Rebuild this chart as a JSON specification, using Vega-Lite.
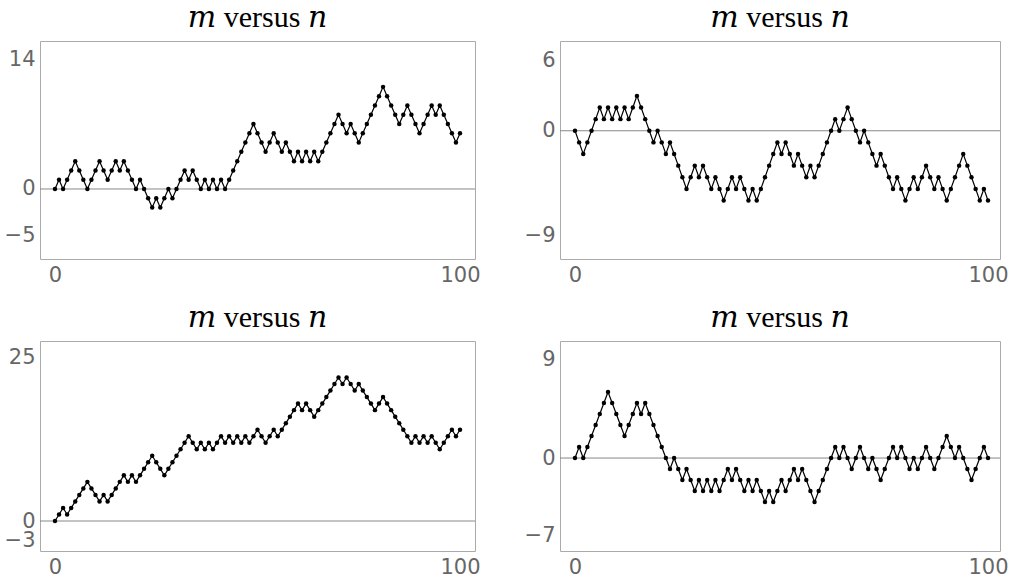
{
 "$schema": "https://vega.github.io/schema/vega-lite/v6.json",
 "padding": {"left": 3, "top": 2, "right": 0, "bottom": 0},
 "background": "white",
 "bounds": "flush",
 "columns": 2,
 "spacing": {"row": 82, "column": 85},
 "config": {
  "view": {"stroke": "#aaaaaa", "strokeWidth": 1},
  "axis": {"domain": false, "ticks": false, "grid": false, "labelFont": "DejaVu Sans", "labelFontSize": 21, "labelColor": "#666666", "labelPadding": 5, "labelOverlap": false, "labelFlush": false, "title": null},
  "title": {"font": "Liberation Serif, DejaVu Serif, DejaVu Sans", "fontSize": 30, "fontWeight": "normal", "color": "black", "baseline": "alphabetic", "offset": 8}
 },
 "datasets": {
  "zero": [{"m": 0}],
  "w1": [{"n":0,"m":0},{"n":1,"m":1},{"n":2,"m":0},{"n":3,"m":1},{"n":4,"m":2},{"n":5,"m":3},{"n":6,"m":2},{"n":7,"m":1},{"n":8,"m":0},{"n":9,"m":1},{"n":10,"m":2},{"n":11,"m":3},{"n":12,"m":2},{"n":13,"m":1},{"n":14,"m":2},{"n":15,"m":3},{"n":16,"m":2},{"n":17,"m":3},{"n":18,"m":2},{"n":19,"m":1},{"n":20,"m":0},{"n":21,"m":1},{"n":22,"m":0},{"n":23,"m":-1},{"n":24,"m":-2},{"n":25,"m":-1},{"n":26,"m":-2},{"n":27,"m":-1},{"n":28,"m":0},{"n":29,"m":-1},{"n":30,"m":0},{"n":31,"m":1},{"n":32,"m":2},{"n":33,"m":1},{"n":34,"m":2},{"n":35,"m":1},{"n":36,"m":0},{"n":37,"m":1},{"n":38,"m":0},{"n":39,"m":1},{"n":40,"m":0},{"n":41,"m":1},{"n":42,"m":0},{"n":43,"m":1},{"n":44,"m":2},{"n":45,"m":3},{"n":46,"m":4},{"n":47,"m":5},{"n":48,"m":6},{"n":49,"m":7},{"n":50,"m":6},{"n":51,"m":5},{"n":52,"m":4},{"n":53,"m":5},{"n":54,"m":6},{"n":55,"m":5},{"n":56,"m":4},{"n":57,"m":5},{"n":58,"m":4},{"n":59,"m":3},{"n":60,"m":4},{"n":61,"m":3},{"n":62,"m":4},{"n":63,"m":3},{"n":64,"m":4},{"n":65,"m":3},{"n":66,"m":4},{"n":67,"m":5},{"n":68,"m":6},{"n":69,"m":7},{"n":70,"m":8},{"n":71,"m":7},{"n":72,"m":6},{"n":73,"m":7},{"n":74,"m":6},{"n":75,"m":5},{"n":76,"m":6},{"n":77,"m":7},{"n":78,"m":8},{"n":79,"m":9},{"n":80,"m":10},{"n":81,"m":11},{"n":82,"m":10},{"n":83,"m":9},{"n":84,"m":8},{"n":85,"m":7},{"n":86,"m":8},{"n":87,"m":9},{"n":88,"m":8},{"n":89,"m":7},{"n":90,"m":6},{"n":91,"m":7},{"n":92,"m":8},{"n":93,"m":9},{"n":94,"m":8},{"n":95,"m":9},{"n":96,"m":8},{"n":97,"m":7},{"n":98,"m":6},{"n":99,"m":5},{"n":100,"m":6}],
  "w2": [{"n":0,"m":0},{"n":1,"m":-1},{"n":2,"m":-2},{"n":3,"m":-1},{"n":4,"m":0},{"n":5,"m":1},{"n":6,"m":2},{"n":7,"m":1},{"n":8,"m":2},{"n":9,"m":1},{"n":10,"m":2},{"n":11,"m":1},{"n":12,"m":2},{"n":13,"m":1},{"n":14,"m":2},{"n":15,"m":3},{"n":16,"m":2},{"n":17,"m":1},{"n":18,"m":0},{"n":19,"m":-1},{"n":20,"m":0},{"n":21,"m":-1},{"n":22,"m":-2},{"n":23,"m":-1},{"n":24,"m":-2},{"n":25,"m":-3},{"n":26,"m":-4},{"n":27,"m":-5},{"n":28,"m":-4},{"n":29,"m":-3},{"n":30,"m":-4},{"n":31,"m":-3},{"n":32,"m":-4},{"n":33,"m":-5},{"n":34,"m":-4},{"n":35,"m":-5},{"n":36,"m":-6},{"n":37,"m":-5},{"n":38,"m":-4},{"n":39,"m":-5},{"n":40,"m":-4},{"n":41,"m":-5},{"n":42,"m":-6},{"n":43,"m":-5},{"n":44,"m":-6},{"n":45,"m":-5},{"n":46,"m":-4},{"n":47,"m":-3},{"n":48,"m":-2},{"n":49,"m":-1},{"n":50,"m":-2},{"n":51,"m":-1},{"n":52,"m":-2},{"n":53,"m":-3},{"n":54,"m":-2},{"n":55,"m":-3},{"n":56,"m":-4},{"n":57,"m":-3},{"n":58,"m":-4},{"n":59,"m":-3},{"n":60,"m":-2},{"n":61,"m":-1},{"n":62,"m":0},{"n":63,"m":1},{"n":64,"m":0},{"n":65,"m":1},{"n":66,"m":2},{"n":67,"m":1},{"n":68,"m":0},{"n":69,"m":-1},{"n":70,"m":0},{"n":71,"m":-1},{"n":72,"m":-2},{"n":73,"m":-3},{"n":74,"m":-2},{"n":75,"m":-3},{"n":76,"m":-4},{"n":77,"m":-5},{"n":78,"m":-4},{"n":79,"m":-5},{"n":80,"m":-6},{"n":81,"m":-5},{"n":82,"m":-4},{"n":83,"m":-5},{"n":84,"m":-4},{"n":85,"m":-3},{"n":86,"m":-4},{"n":87,"m":-5},{"n":88,"m":-4},{"n":89,"m":-5},{"n":90,"m":-6},{"n":91,"m":-5},{"n":92,"m":-4},{"n":93,"m":-3},{"n":94,"m":-2},{"n":95,"m":-3},{"n":96,"m":-4},{"n":97,"m":-5},{"n":98,"m":-6},{"n":99,"m":-5},{"n":100,"m":-6}],
  "w3": [{"n":0,"m":0},{"n":1,"m":1},{"n":2,"m":2},{"n":3,"m":1},{"n":4,"m":2},{"n":5,"m":3},{"n":6,"m":4},{"n":7,"m":5},{"n":8,"m":6},{"n":9,"m":5},{"n":10,"m":4},{"n":11,"m":3},{"n":12,"m":4},{"n":13,"m":3},{"n":14,"m":4},{"n":15,"m":5},{"n":16,"m":6},{"n":17,"m":7},{"n":18,"m":6},{"n":19,"m":7},{"n":20,"m":6},{"n":21,"m":7},{"n":22,"m":8},{"n":23,"m":9},{"n":24,"m":10},{"n":25,"m":9},{"n":26,"m":8},{"n":27,"m":7},{"n":28,"m":8},{"n":29,"m":9},{"n":30,"m":10},{"n":31,"m":11},{"n":32,"m":12},{"n":33,"m":13},{"n":34,"m":12},{"n":35,"m":11},{"n":36,"m":12},{"n":37,"m":11},{"n":38,"m":12},{"n":39,"m":11},{"n":40,"m":12},{"n":41,"m":13},{"n":42,"m":12},{"n":43,"m":13},{"n":44,"m":12},{"n":45,"m":13},{"n":46,"m":12},{"n":47,"m":13},{"n":48,"m":12},{"n":49,"m":13},{"n":50,"m":14},{"n":51,"m":13},{"n":52,"m":12},{"n":53,"m":13},{"n":54,"m":14},{"n":55,"m":13},{"n":56,"m":14},{"n":57,"m":15},{"n":58,"m":16},{"n":59,"m":17},{"n":60,"m":18},{"n":61,"m":17},{"n":62,"m":18},{"n":63,"m":17},{"n":64,"m":16},{"n":65,"m":17},{"n":66,"m":18},{"n":67,"m":19},{"n":68,"m":20},{"n":69,"m":21},{"n":70,"m":22},{"n":71,"m":21},{"n":72,"m":22},{"n":73,"m":21},{"n":74,"m":20},{"n":75,"m":21},{"n":76,"m":20},{"n":77,"m":19},{"n":78,"m":18},{"n":79,"m":17},{"n":80,"m":18},{"n":81,"m":19},{"n":82,"m":18},{"n":83,"m":17},{"n":84,"m":16},{"n":85,"m":15},{"n":86,"m":14},{"n":87,"m":13},{"n":88,"m":12},{"n":89,"m":13},{"n":90,"m":12},{"n":91,"m":13},{"n":92,"m":12},{"n":93,"m":13},{"n":94,"m":12},{"n":95,"m":11},{"n":96,"m":12},{"n":97,"m":13},{"n":98,"m":14},{"n":99,"m":13},{"n":100,"m":14}],
  "w4": [{"n":0,"m":0},{"n":1,"m":1},{"n":2,"m":0},{"n":3,"m":1},{"n":4,"m":2},{"n":5,"m":3},{"n":6,"m":4},{"n":7,"m":5},{"n":8,"m":6},{"n":9,"m":5},{"n":10,"m":4},{"n":11,"m":3},{"n":12,"m":2},{"n":13,"m":3},{"n":14,"m":4},{"n":15,"m":5},{"n":16,"m":4},{"n":17,"m":5},{"n":18,"m":4},{"n":19,"m":3},{"n":20,"m":2},{"n":21,"m":1},{"n":22,"m":0},{"n":23,"m":-1},{"n":24,"m":0},{"n":25,"m":-1},{"n":26,"m":-2},{"n":27,"m":-1},{"n":28,"m":-2},{"n":29,"m":-3},{"n":30,"m":-2},{"n":31,"m":-3},{"n":32,"m":-2},{"n":33,"m":-3},{"n":34,"m":-2},{"n":35,"m":-3},{"n":36,"m":-2},{"n":37,"m":-1},{"n":38,"m":-2},{"n":39,"m":-1},{"n":40,"m":-2},{"n":41,"m":-3},{"n":42,"m":-2},{"n":43,"m":-3},{"n":44,"m":-2},{"n":45,"m":-3},{"n":46,"m":-4},{"n":47,"m":-3},{"n":48,"m":-4},{"n":49,"m":-3},{"n":50,"m":-2},{"n":51,"m":-3},{"n":52,"m":-2},{"n":53,"m":-1},{"n":54,"m":-2},{"n":55,"m":-1},{"n":56,"m":-2},{"n":57,"m":-3},{"n":58,"m":-4},{"n":59,"m":-3},{"n":60,"m":-2},{"n":61,"m":-1},{"n":62,"m":0},{"n":63,"m":1},{"n":64,"m":0},{"n":65,"m":1},{"n":66,"m":0},{"n":67,"m":-1},{"n":68,"m":0},{"n":69,"m":1},{"n":70,"m":0},{"n":71,"m":-1},{"n":72,"m":0},{"n":73,"m":-1},{"n":74,"m":-2},{"n":75,"m":-1},{"n":76,"m":0},{"n":77,"m":1},{"n":78,"m":0},{"n":79,"m":1},{"n":80,"m":0},{"n":81,"m":-1},{"n":82,"m":0},{"n":83,"m":-1},{"n":84,"m":0},{"n":85,"m":1},{"n":86,"m":0},{"n":87,"m":-1},{"n":88,"m":0},{"n":89,"m":1},{"n":90,"m":2},{"n":91,"m":1},{"n":92,"m":0},{"n":93,"m":1},{"n":94,"m":0},{"n":95,"m":-1},{"n":96,"m":-2},{"n":97,"m":-1},{"n":98,"m":0},{"n":99,"m":1},{"n":100,"m":0}]
 },
 "concat": [
   {"width": 435, "height": 218, "title": "𝑚 versus 𝑛", "layer": [
    {"data": {"name": "zero"}, "mark": {"type": "rule", "color": "#888888", "strokeWidth": 1}, "encoding": {"y": {"field": "m", "type": "quantitative"}}},
    {"data": {"name": "w1"}, "mark": {"type": "line", "color": "black", "strokeWidth": 1.2, "point": {"filled": true, "color": "black", "size": 20, "opacity": 1}},
     "encoding": {"x": {"field": "n", "type": "quantitative", "scale": {"domain": [-3.7, 103.7], "nice": false, "zero": false}, "axis": {"values": [0, 100], "format": "d"}},
                  "y": {"field": "m", "type": "quantitative", "scale": {"domain": [-7.54, 15.94], "nice": false, "zero": false}, "axis": {"values": [-5, 0, 14], "format": "d"}}}}
   ]},
   {"width": 440, "height": 218, "title": "𝑚 versus 𝑛", "layer": [
    {"data": {"name": "zero"}, "mark": {"type": "rule", "color": "#888888", "strokeWidth": 1}, "encoding": {"y": {"field": "m", "type": "quantitative"}}},
    {"data": {"name": "w2"}, "mark": {"type": "line", "color": "black", "strokeWidth": 1.2, "point": {"filled": true, "color": "black", "size": 20, "opacity": 1}},
     "encoding": {"x": {"field": "n", "type": "quantitative", "scale": {"domain": [-3.63, 102.9], "nice": false, "zero": false}, "axis": {"values": [0, 100], "format": "d"}},
                  "y": {"field": "m", "type": "quantitative", "scale": {"domain": [-11.03, 7.72], "nice": false, "zero": false}, "axis": {"values": [-9, 0, 6], "format": "d"}}}}
   ]},
   {"width": 435, "height": 210, "title": "𝑚 versus 𝑛", "layer": [
    {"data": {"name": "zero"}, "mark": {"type": "rule", "color": "#888888", "strokeWidth": 1}, "encoding": {"y": {"field": "m", "type": "quantitative"}}},
    {"data": {"name": "w3"}, "mark": {"type": "line", "color": "black", "strokeWidth": 1.2, "point": {"filled": true, "color": "black", "size": 20, "opacity": 1}},
     "encoding": {"x": {"field": "n", "type": "quantitative", "scale": {"domain": [-3.7, 103.7], "nice": false, "zero": false}, "axis": {"values": [0, 100], "format": "d"}},
                  "y": {"field": "m", "type": "quantitative", "scale": {"domain": [-4.6, 27.6], "nice": false, "zero": false}, "axis": {"values": [-3, 0, 25], "format": "d"}}}}
   ]},
   {"width": 440, "height": 210, "title": "𝑚 versus 𝑛", "layer": [
    {"data": {"name": "zero"}, "mark": {"type": "rule", "color": "#888888", "strokeWidth": 1}, "encoding": {"y": {"field": "m", "type": "quantitative"}}},
    {"data": {"name": "w4"}, "mark": {"type": "line", "color": "black", "strokeWidth": 1.2, "point": {"filled": true, "color": "black", "size": 20, "opacity": 1}},
     "encoding": {"x": {"field": "n", "type": "quantitative", "scale": {"domain": [-3.63, 102.9], "nice": false, "zero": false}, "axis": {"values": [0, 100], "format": "d"}},
                  "y": {"field": "m", "type": "quantitative", "scale": {"domain": [-8.45, 10.64], "nice": false, "zero": false}, "axis": {"values": [-7, 0, 9], "format": "d"}}}}
   ]}
 ]
}
